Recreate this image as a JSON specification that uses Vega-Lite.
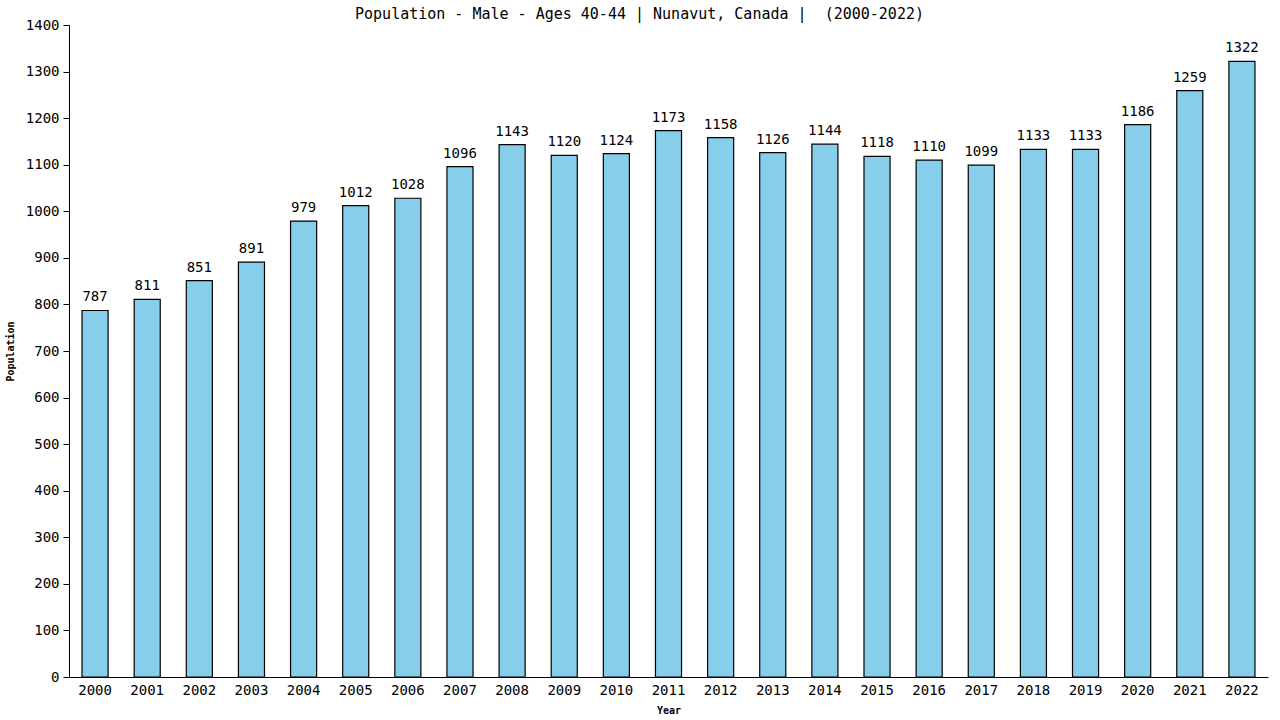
{
  "$schema": "https://vega.github.io/schema/vega-lite/v6.json",
  "width": 1199,
  "height": 652,
  "autosize": {"type": "none"},
  "padding": {"left": 69, "top": 25, "right": 12, "bottom": 43},
  "background": "white",
  "title": {"text": "Population - Male - Ages 40-44 | Nunavut, Canada | \u00a0(2000-2022)", "font": "DejaVu Sans Mono", "fontSize": 15, "fontWeight": "normal", "color": "black", "anchor": "middle", "offset": -4, "dx": -29, "frame": "group"},
  "config": {"view": {"stroke": null}, "axis": {"grid": false, "domainColor": "black", "tickColor": "black", "labelColor": "black", "titleColor": "black", "labelFont": "DejaVu Sans Mono", "titleFont": "DejaVu Sans Mono", "labelFontSize": 14, "titleFontSize": 10, "titleFontWeight": "bold"}},
  "data": {"values": [
    {"year": "2000", "pop": 787}, {"year": "2001", "pop": 811}, {"year": "2002", "pop": 851},
    {"year": "2003", "pop": 891}, {"year": "2004", "pop": 979}, {"year": "2005", "pop": 1012},
    {"year": "2006", "pop": 1028}, {"year": "2007", "pop": 1096}, {"year": "2008", "pop": 1143},
    {"year": "2009", "pop": 1120}, {"year": "2010", "pop": 1124}, {"year": "2011", "pop": 1173},
    {"year": "2012", "pop": 1158}, {"year": "2013", "pop": 1126}, {"year": "2014", "pop": 1144},
    {"year": "2015", "pop": 1118}, {"year": "2016", "pop": 1110}, {"year": "2017", "pop": 1099},
    {"year": "2018", "pop": 1133}, {"year": "2019", "pop": 1133}, {"year": "2020", "pop": 1186},
    {"year": "2021", "pop": 1259}, {"year": "2022", "pop": 1322}
  ]},
  "encoding": {
    "x": {"field": "year", "type": "ordinal", "scale": {"paddingInner": 0.5, "paddingOuter": 0.25}, "axis": {"title": "Year", "labelAngle": 0, "ticks": false, "labelPadding": 6, "titlePadding": 8}},
    "y": {"field": "pop", "type": "quantitative", "scale": {"domain": [0, 1400], "nice": false}, "axis": {"title": "Population", "format": "d", "labelOverlap": false, "values": [0,100,200,300,400,500,600,700,800,900,1000,1100,1200,1300,1400], "tickSize": 6, "labelPadding": 4, "titlePadding": 10}}
  },
  "layer": [
    {"mark": {"type": "bar", "fill": "#87CEEB", "stroke": "#000000", "strokeWidth": 1.2}},
    {"mark": {"type": "text", "dy": -13, "font": "DejaVu Sans Mono", "fontSize": 14, "color": "black"}, "encoding": {"text": {"field": "pop", "type": "quantitative"}}}
  ]
}
